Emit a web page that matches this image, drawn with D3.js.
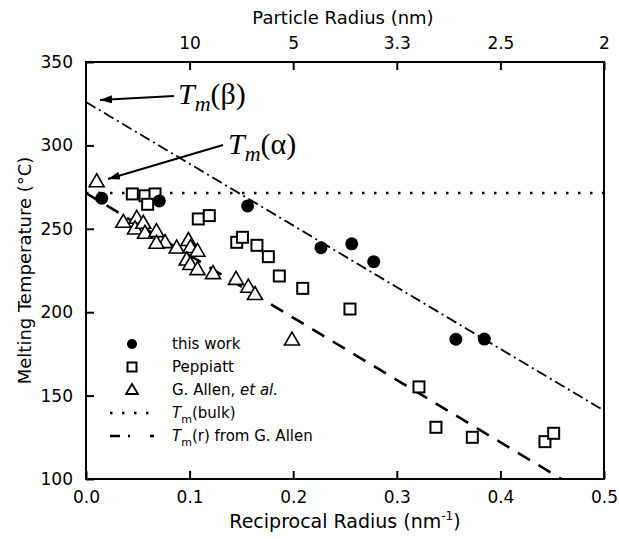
<!DOCTYPE html>
<html><head><meta charset="utf-8">
<script src="https://cdn.jsdelivr.net/npm/d3@7"></script>
<style>
body{margin:0;background:#fff;}
svg text{font-family:"DejaVu Sans",sans-serif;fill:#000;}
</style></head>
<body><svg id="c" width="619" height="539"></svg>
<script>
// ---- data ----
const thisWorkX = [0.0152,0.0708,0.156,0.2268,0.2565,0.2777,0.357,0.3845];
const thisWorkT = [268.3,266.7,263.7,238.7,241.0,230.3,183.8,183.9];

const peppiattX = [0.0447,0.057,0.0666,0.0595,0.1084,0.119,0.1455,0.151,0.165,0.176,0.1866,0.2092,0.2548,0.3214,0.3378,0.3729,0.443,0.4514];
const peppiattT = [270.9,269.8,270.9,264.7,255.9,257.9,241.9,244.9,240.1,233.3,221.7,214.3,201.9,155.2,131.0,125.0,122.4,127.4];

const allenX = [0.0103,0.036,0.049,0.0473,0.0553,0.057,0.068,0.0763,0.068,0.0875,0.0988,0.1009,0.1076,0.0972,0.1007,0.1076,0.1226,0.1448,0.1567,0.1631,0.1988];
const allenT = [278.2,253.9,256.3,249.9,253.3,247.3,248.3,241.7,241.3,238.5,243.0,238.8,236.5,231.3,228.6,225.5,223.1,219.7,215.0,210.6,183.3];

const bulkT = 271.4;
const betaLineX = [0, 0.5];
const betaLineT = [326, 141];
const allenLineX = [0, 0.459];
const allenLineT = [271.4, 100];

const xTicks = [0,0.1,0.2,0.3,0.4,0.5];
const xTickLabels = ["0.0","0.1","0.2","0.3","0.4","0.5"];
const yTicks = [100,150,200,250,300,350];
const topTicks = [0.1,0.2,0.3,0.4,0.5];
const topTickLabels = ["10","5","3.3","2.5","2"];

// ---- layout ----
const svg = d3.select("#c");
const L=86, R=604, T=62, B=479;
const x = d3.scaleLinear().domain([0,0.5]).range([L,R]);
const y = d3.scaleLinear().domain([100,350]).range([B,T]);

const defs = svg.append("defs");
defs.append("clipPath").attr("id","clip").append("rect")
  .attr("x",L).attr("y",T).attr("width",R-L).attr("height",B-T);
defs.append("marker").attr("id","arr").attr("viewBox","0 0 12 8")
  .attr("refX",12).attr("refY",4).attr("markerWidth",12).attr("markerHeight",8)
  .attr("markerUnits","userSpaceOnUse").attr("orient","auto")
  .append("path").attr("d","M0,0 L12,4 L0,8 Z").attr("fill","#000");

// axes
const tickLen = 8;
const axB = d3.axisBottom(x).tickValues(xTicks).tickFormat((d,i)=>xTickLabels[i]).tickSize(-tickLen).tickPadding(tickLen+4);
const axL = d3.axisLeft(y).tickValues(yTicks).tickFormat(d3.format("d")).tickSize(-tickLen).tickPadding(tickLen+5);
const axT = d3.axisTop(x).tickValues(topTicks).tickFormat((d,i)=>topTickLabels[i]).tickSize(-tickLen).tickPadding(tickLen+5);
const axR = d3.axisRight(y).tickValues([]).tickSize(0);

function styleAx(g){
  g.selectAll(".domain").attr("stroke","#000").attr("stroke-width",2);
  g.selectAll(".tick line").attr("stroke","#000").attr("stroke-width",2);
  g.selectAll(".tick text").attr("font-size",17).attr("font-family",null);
}
svg.append("g").attr("transform",`translate(0,${B})`).call(axB).call(styleAx);
svg.append("g").attr("transform",`translate(${L},0)`).call(axL).call(styleAx);
svg.append("g").attr("transform",`translate(0,${T})`).call(axT).call(styleAx);
svg.append("g").attr("transform",`translate(${R},0)`).call(axR).call(styleAx);
svg.selectAll(".domain").attr("d",null);
svg.append("rect").attr("x",L).attr("y",T).attr("width",R-L).attr("height",B-T)
  .attr("fill","none").attr("stroke","#000").attr("stroke-width",2);

// titles
svg.append("text").attr("x",343).attr("y",24).attr("text-anchor","middle").attr("font-size",18).text("Particle Radius (nm)");
const xt = svg.append("text").attr("x",345).attr("y",528).attr("text-anchor","middle").attr("font-size",19);
xt.append("tspan").text("Reciprocal Radius (nm");
xt.append("tspan").attr("dy",-8).attr("font-size",12).text("-1");
xt.append("tspan").attr("dy",8).text(")");
svg.append("text").attr("transform",`translate(31,${(T+B)/2}) rotate(-90)`).attr("text-anchor","middle")
  .attr("font-size",18).text("Melting Temperature (°C)");

// lines
const plot = svg.append("g").attr("clip-path","url(#clip)");
const line = d3.line().x(d=>x(d[0])).y(d=>y(d[1]));
plot.append("path").datum([[0,bulkT],[0.5,bulkT]]).attr("d",line)
  .attr("stroke","#000").attr("stroke-width",2.5).attr("stroke-dasharray","2.5,9.5").attr("fill","none");
plot.append("path").datum(betaLineX.map((v,i)=>[v,betaLineT[i]])).attr("d",line)
  .attr("stroke","#000").attr("stroke-width",1.8).attr("stroke-dasharray","11,4,2,4").attr("fill","none");
plot.append("path").datum(allenLineX.map((v,i)=>[v,allenLineT[i]])).attr("d",line)
  .attr("stroke","#000").attr("stroke-width",2.6).attr("stroke-dasharray","14,10").attr("fill","none");

// markers
const sq = 11;
const triPath = "M0,-8 L7.5,5 L-7.5,5 Z";
plot.selectAll(".tri").data(allenX.map((v,i)=>[v,allenT[i]])).join("path")
  .attr("d",triPath).attr("transform",d=>`translate(${x(d[0])},${y(d[1])})`)
  .attr("fill","#fff").attr("stroke","#000").attr("stroke-width",1.6);
plot.selectAll(".sq").data(peppiattX.map((v,i)=>[v,peppiattT[i]])).join("rect")
  .attr("x",d=>x(d[0])-sq/2).attr("y",d=>y(d[1])-sq/2).attr("width",sq).attr("height",sq)
  .attr("fill","#fff").attr("stroke","#000").attr("stroke-width",2);
plot.selectAll(".cir").data(thisWorkX.map((v,i)=>[v,thisWorkT[i]])).join("circle")
  .attr("cx",d=>x(d[0])).attr("cy",d=>y(d[1])).attr("r",6.5).attr("fill","#000");

// annotations
function tmLabel(xp, yp, greek){
  const t = svg.append("text").attr("x",xp).attr("y",yp).style("font-family","'Liberation Serif','DejaVu Serif',serif");
  t.append("tspan").attr("font-style","italic").attr("font-size",30).text("T");
  t.append("tspan").attr("font-style","italic").attr("font-size",22).attr("dy",7).text("m");
  t.append("tspan").attr("font-size",30).attr("dy",-7).text("(" + greek + ")");
}
tmLabel(178,104,"β");
tmLabel(228,154,"α");
svg.append("line").attr("x1",174).attr("y1",96).attr("x2",100).attr("y2",100)
  .attr("stroke","#000").attr("stroke-width",2.2).attr("marker-end","url(#arr)");
svg.append("line").attr("x1",223).attr("y1",145).attr("x2",108).attr("y2",179)
  .attr("stroke","#000").attr("stroke-width",2.2).attr("marker-end","url(#arr)");

// legend
const lgX = 132, lgT = 172, rows = [344,367,390,413,436];
const lg = svg.append("g");
lg.append("circle").attr("cx",lgX).attr("cy",rows[0]).attr("r",5).attr("fill","#000");
lg.append("rect").attr("x",lgX-4.5).attr("y",rows[1]-4.5).attr("width",9).attr("height",9).attr("fill","#fff").attr("stroke","#000").attr("stroke-width",2);
lg.append("path").attr("d","M0,-6 L6,4 L-6,4 Z").attr("transform",`translate(${lgX},${rows[2]})`).attr("fill","#fff").attr("stroke","#000").attr("stroke-width",1.8);
lg.append("line").attr("x1",110).attr("x2",154).attr("y1",rows[3]).attr("y2",rows[3]).attr("stroke","#000").attr("stroke-width",2.5).attr("stroke-dasharray","2.5,9.5");
lg.append("line").attr("x1",110).attr("x2",154).attr("y1",rows[4]).attr("y2",rows[4]).attr("stroke","#000").attr("stroke-width",2.5).attr("stroke-dasharray","10,8,2,20");
const lt = (i)=>lg.append("text").attr("x",lgT).attr("y",rows[i]+5).attr("font-size",15);
lt(0).text("this work");
lt(1).text("Peppiatt");
const ga = lt(2); ga.append("tspan").text("G. Allen, "); ga.append("tspan").attr("font-style","italic").text("et al.");
const tb = lt(3); tb.append("tspan").attr("font-style","italic").text("T");
tb.append("tspan").attr("font-size",11).attr("dy",5).text("m"); tb.append("tspan").attr("dy",-5).text("(bulk)");
const tr = lt(4); tr.append("tspan").attr("font-style","italic").text("T");
tr.append("tspan").attr("font-size",11).attr("dy",5).text("m"); tr.append("tspan").attr("dy",-5).text("(r) from G. Allen");
</script></body></html>
